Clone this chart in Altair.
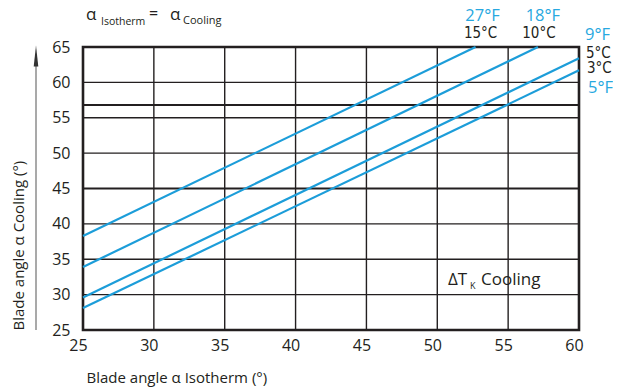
import altair as alt
import pandas as pd

# ---- data ----
series_f = ["27°F", "18°F", "9°F", "5°F"]
series_c = ["15°C", "10°C", "5°C", "3°C"]
x_start = [25, 25, 25, 25]
y_start = [38.3, 33.9, 29.6, 28.1]
x_end = [52.7, 57.1, 60, 60]
y_end = [65, 65, 63.4, 61.7]

x_ticks = [25, 30, 35, 40, 45, 50, 55, 60]
y_ticks = [25, 30, 35, 40, 45, 50, 55, 60, 65]
x_grid = [30, 35, 40, 45, 50, 55]
y_grid = [30, 35, 40, 50, 55, 60]
y_grid_heavy = [45, 56.8]

BLUE_LINE = "#1c9dd9"
BLUE_TEXT = "#27a8e0"
DARK = "#231f20"
FONT = "Open Sans"
NARROW = "'Liberation Sans Narrow', 'DejaVu Sans Condensed', 'Open Sans', sans-serif"

# ---- tables ----
rows = []
for i, name in enumerate(series_f):
    rows.append({"series": name, "xv": x_start[i], "yv": y_start[i]})
    rows.append({"series": name, "xv": x_end[i], "yv": y_end[i]})
lines_df = pd.DataFrame(rows)
ends_df = pd.DataFrame({"f": series_f, "c": series_c, "xv": x_end, "yv": y_end})

xscale = alt.Scale(domain=[25, 60], nice=False, zero=False)
yscale = alt.Scale(domain=[25, 65], nice=False, zero=False)

x_axis = alt.Axis(values=x_ticks, grid=False, ticks=False, domain=False,
                  labelFontSize=16, labelFont=FONT, labelColor=DARK,
                  labelPadding=7, labelOffset=-5, labelFlush=False,
                  title="Blade angle  α Isotherm (°)", titleFont=FONT,
                  titleFontSize=15, titleFontWeight="normal", titleColor=DARK,
                  titleAnchor="start", titleAlign="left", titleBaseline="middle",
                  titleX=3, titleY=47)
y_axis = alt.Axis(values=y_ticks, grid=False, ticks=False, domain=False,
                  labelFontSize=16, labelFont=FONT, labelColor=DARK,
                  labelPadding=13, labelFlush=False,
                  title="Blade angle  α Cooling (°)", titleFont=FONT,
                  titleFontSize=15, titleFontWeight="normal", titleColor=DARK,
                  titleAngle=270, titleAlign="left", titleBaseline="middle",
                  titleX=-65, titleY=283)


def X(field):
    return alt.X(field, scale=xscale, axis=x_axis)


def Y(field):
    return alt.Y(field, scale=yscale, axis=y_axis)


vgrid = alt.Chart(pd.DataFrame({"xv": x_grid})).mark_rule(
    color=DARK, strokeWidth=1.4).encode(x=X("xv:Q"))
hgrid = alt.Chart(pd.DataFrame({"yv": y_grid})).mark_rule(
    color=DARK, strokeWidth=1.4).encode(y=Y("yv:Q"))
hgrid2 = alt.Chart(pd.DataFrame({"yv": y_grid_heavy})).mark_rule(
    color=DARK, strokeWidth=2.2).encode(y=Y("yv:Q"))

lines = alt.Chart(lines_df).mark_line(color=BLUE_LINE, strokeWidth=2.2).encode(
    x=X("xv:Q"),
    y=Y("yv:Q"),
    detail="series:N",
)

# end-of-line labels: (field, color, font, size, align, dx, dy) per series
label_specs = [
    [("f", BLUE_TEXT, FONT, 16.5, "center", 7, -31), ("c", DARK, NARROW, 15, "center", 5, -14)],
    [("f", BLUE_TEXT, FONT, 16.5, "center", 5, -31), ("c", DARK, NARROW, 15, "center", 1, -14)],
    [("f", BLUE_TEXT, FONT, 16.5, "left", 6, -23), ("c", DARK, NARROW, 15, "left", 7, -5)],
    [("c", DARK, NARROW, 15, "left", 8, -2), ("f", BLUE_TEXT, FONT, 16.5, "left", 9, 18)],
]
label_layers = []
for i, specs in enumerate(label_specs):
    for field, col, fnt, size, align, dx, dy in specs:
        label_layers.append(
            alt.Chart(ends_df)
            .transform_filter(alt.datum.f == series_f[i])
            .mark_text(color=col, fontSize=size, font=fnt, align=align,
                       baseline="middle", dx=dx, dy=dy)
            .encode(x=X("xv:Q"), y=Y("yv:Q"), text=f"{field}:N")
        )


def txt(s, x, y, size, color=DARK, baseline="alphabetic", align="left"):
    return alt.Chart(pd.DataFrame({"t": [s]})).mark_text(
        font=FONT, fontSize=size, color=color, align=align, baseline=baseline
    ).encode(x=alt.value(x), y=alt.value(y), text="t:N")


annotations = [
    txt("α", 3, -27, 17),
    txt("Isotherm", 18, -22, 10.5),
    txt("=", 66, -28, 16),
    txt("α", 87, -27, 17),
    txt("Cooling", 100, -23, 11),
    txt("ΔT", 365, 238, 17),
    txt("K", 387, 242, 9),
    txt("Cooling", 398, 238, 17),
]

arrow_line = alt.Chart(pd.DataFrame({"a": [0]})).mark_rule(
    color="#8c8c8c", strokeWidth=1.5).encode(
    x=alt.value(-47), y=alt.value(12), y2=alt.value(283))
arrow_head = alt.Chart(pd.DataFrame({"a": [0]})).mark_point(
    shape="M0,-1L0.22,1L-0.22,1Z", filled=True, color="#333333",
    size=440, opacity=1, strokeWidth=0).encode(
    x=alt.value(-47), y=alt.value(9))

chart = alt.layer(
    vgrid, hgrid, hgrid2, lines, *label_layers, *annotations, arrow_line, arrow_head
).properties(
    width=496, height=283,
    autosize=alt.AutoSizeParams(type="none"),
    padding={"left": 75, "top": 39, "right": 34, "bottom": 58},
    background="white",
).configure_view(stroke=DARK, strokeWidth=2.6)

chart.save("out.html", embed_options={"renderer": "svg", "actions": False})
